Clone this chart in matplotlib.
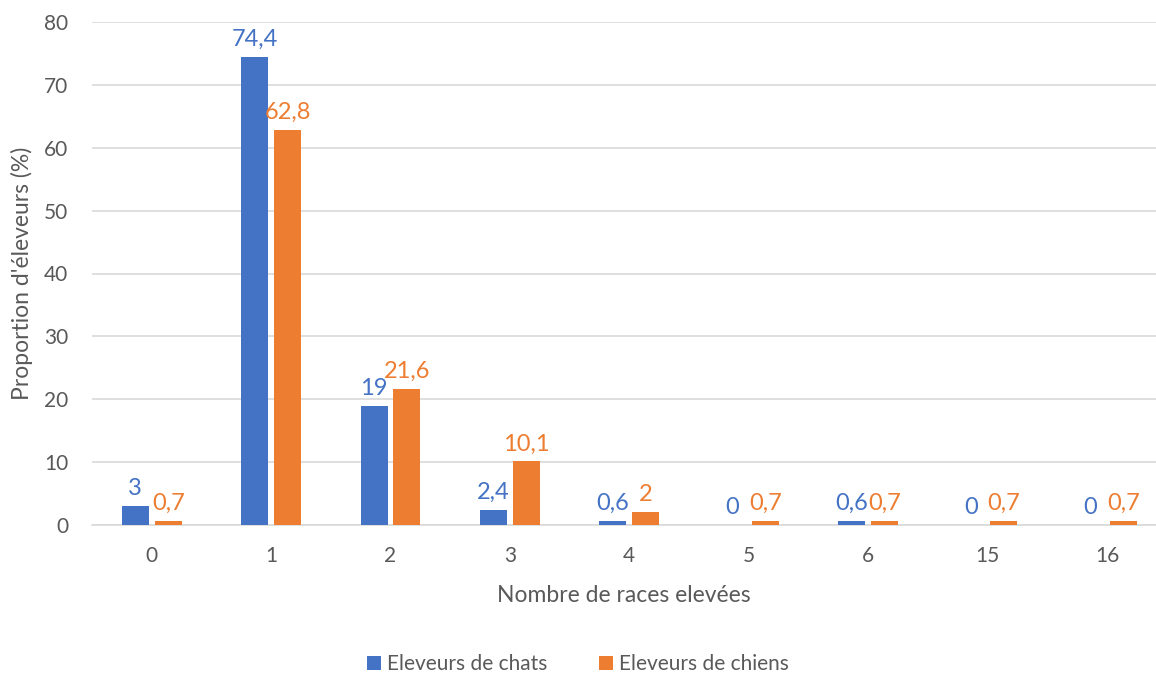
import matplotlib.pyplot as plt
import numpy as np

# Données
categories = ['0', '1', '2', '3', '4', '5', '6', '15', '16']
chats = [3, 74.4, 19, 2.4, 0.6, 0, 0.6, 0, 0]
chiens = [0.7, 62.8, 21.6, 10.1, 2, 0.7, 0.7, 0.7, 0.7]
series_noms = ['Eleveurs de chats', 'Eleveurs de chiens']

BLEU = '#4472C4'
ORANGE = '#ED7D31'
GRIS = '#595959'

plt.rcParams['font.family'] = ['Lato', 'DejaVu Sans']

fig = plt.figure(figsize=(11.56, 6.77), dpi=100)
ax = fig.add_axes([92 / 1156, 1 - 525 / 677, 1064 / 1156, 503 / 677])

x = np.arange(len(categories))
largeur = 0.226
decal = 0.138

barres_chats = ax.bar(x - decal, chats, width=largeur, color=BLEU, label=series_noms[0], zorder=3)
barres_chiens = ax.bar(x + decal, chiens, width=largeur, color=ORANGE, label=series_noms[1], zorder=3)

def fmt(v):
    # virgule décimale à la française
    return f"{v:g}".replace('.', ',')

for barres, valeurs, couleur in [(barres_chats, chats, BLEU), (barres_chiens, chiens, ORANGE)]:
    for b, v in zip(barres, valeurs):
        ax.annotate(fmt(v), (b.get_x() + b.get_width() / 2, v), xytext=(0, 5),
                    textcoords='offset points', ha='center', va='bottom',
                    fontsize=17, color=couleur)

ax.set_ylim(0, 80)
ax.set_xlim(-0.5, -0.5 + 1064 / 119.4)
ax.set_yticks(range(0, 81, 10))
ax.set_xticks(x)
ax.set_xticklabels(categories)
ax.tick_params(axis='both', length=0, labelsize=15, colors=GRIS)
ax.tick_params(axis='x', pad=15)
ax.tick_params(axis='y', pad=17)

ax.grid(axis='y', color='#D9D9D9', linewidth=1.2, zorder=0)
for s in ['top', 'right', 'left']:
    ax.spines[s].set_visible(False)
ax.spines['bottom'].set_color('#D9D9D9')
ax.spines['bottom'].set_linewidth(1.2)

ax.set_xlabel('Nombre de races elevées', fontsize=16.5, color=GRIS, labelpad=14)
ax.set_ylabel("Proportion d'éleveurs (%)", fontsize=16.5, color=GRIS, labelpad=8)

fig.legend(handles=[barres_chats, barres_chiens], loc='center', bbox_to_anchor=(0.5, 1 - 664 / 677),
           ncol=2, frameon=False, fontsize=15, labelcolor=GRIS, handlelength=0.65, handleheight=0.65,
           handletextpad=0.3, columnspacing=2.5)

plt.savefig('out.png', dpi=100)
